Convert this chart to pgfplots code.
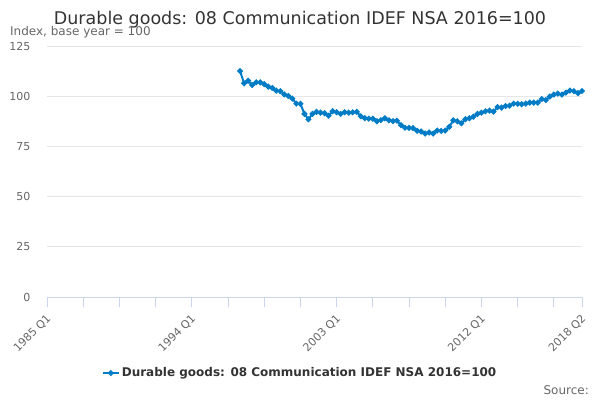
\documentclass[border=0pt]{standalone}
\usepackage{pgfplots}
\pgfplotsset{compat=1.18}
\usepackage{fontspec}
\setmainfont{DejaVu Sans}
\definecolor{series}{RGB}{0,124,198}
\definecolor{txtdark}{RGB}{51,51,51}
\definecolor{txtgray}{RGB}{102,102,102}
\definecolor{gridc}{RGB}{230,230,230}
\definecolor{axisc}{RGB}{204,214,235}
\pgfplotstableread{
q v
48 112.5
49 106.4
50 107.7
51 105.6
52 106.9
53 106.9
54 106.0
55 104.8
56 104.1
57 102.8
58 102.5
59 100.9
60 100.1
61 98.8
62 96.3
63 96.2
64 91.2
65 88.5
66 91.2
67 92.2
68 91.8
69 91.5
70 90.3
71 92.5
72 92.0
73 91.2
74 92.0
75 91.8
76 92.0
77 92.2
78 90.0
79 89.1
80 88.8
81 88.8
82 87.5
83 88.1
84 89.0
85 88.0
86 87.6
87 87.8
88 85.6
89 84.3
90 84.2
91 84.1
92 82.8
93 82.4
94 81.4
95 81.9
96 81.4
97 82.9
98 82.7
99 82.9
100 84.7
101 88.0
102 87.5
103 86.5
104 88.5
105 89.0
106 89.8
107 91.2
108 91.8
109 92.5
110 92.8
111 92.3
112 94.6
113 94.3
114 95.1
115 95.3
116 96.3
117 96.2
118 96.0
119 96.3
120 96.8
121 96.8
122 96.8
123 98.6
124 98.1
125 99.8
126 100.8
127 101.3
128 100.8
129 101.8
130 102.8
131 102.5
132 101.5
133 102.6
}\datatable
\begin{document}
\begin{tikzpicture}[x=1pt,y=1pt]
\useasboundingbox (0,0) rectangle (600,400);
\node[anchor=base,font=\fontsize{17.5}{20}\selectfont,text=txtdark,inner sep=0pt] at (300,375) {Durable goods: 08 Communication IDEF NSA 2016=100};
\node[anchor=west,font=\fontsize{12}{14}\selectfont,text=txtgray,inner sep=0pt] at (10,368) {Index, base year = 100};
\node[anchor=east,font=\fontsize{12}{14}\selectfont,text=txtgray,inner sep=0pt] at (589,10) {Source:};
\begin{axis}[
  at={(47pt,103pt)}, anchor=south west,
  width=535pt, height=251pt, scale only axis,
  xmin=0, xmax=133, ymin=0, ymax=125,
  axis x line*=bottom, axis y line*=left,
  y axis line style={draw=none},
  x axis line style={draw=axisc, line width=1pt},
  ytick={0,25,50,75,100,125},
  ymajorgrids, grid style={draw=gridc, line width=0.8pt},
  ytick style={draw=none},
  xtick={0,9,18,27,36,45,54,63,72,81,90,99,108,117,126,133},
  xticklabels={1985 Q1,,,,1994 Q1,,,,2003 Q1,,,,2012 Q1,,,2018 Q2},
  xtick style={draw=axisc, line width=1pt},
  major tick length=10pt,
  tick align=outside,
  /pgf/number format/assume math mode=true,
  ticklabel style={font=\fontsize{11}{13}\selectfont, text=txtgray},
  yticklabel style={anchor=east, xshift=-3pt},
  xticklabel style={rotate=45, anchor=north east, xshift=-2pt, yshift=0pt},
  clip=false,
  legend style={at={(axis description cs:0.473,-0.303)}, anchor=center, draw=none, fill=none,
    font=\fontsize{12}{14}\selectfont\bfseries, text=txtdark},
  legend image code/.code={\draw[series,line width=2pt] (0pt,0pt) -- (16pt,0pt); \fill[series] (8pt,0pt) circle (1.8pt);},
]
\addplot[series, line width=2pt, mark=*, mark size=1.8pt, mark options={fill=series, draw=series}] table[x=q,y=v] {\datatable};
\addlegendentry{Durable goods: 08 Communication IDEF NSA 2016=100}
\end{axis}
\end{tikzpicture}
\end{document}
